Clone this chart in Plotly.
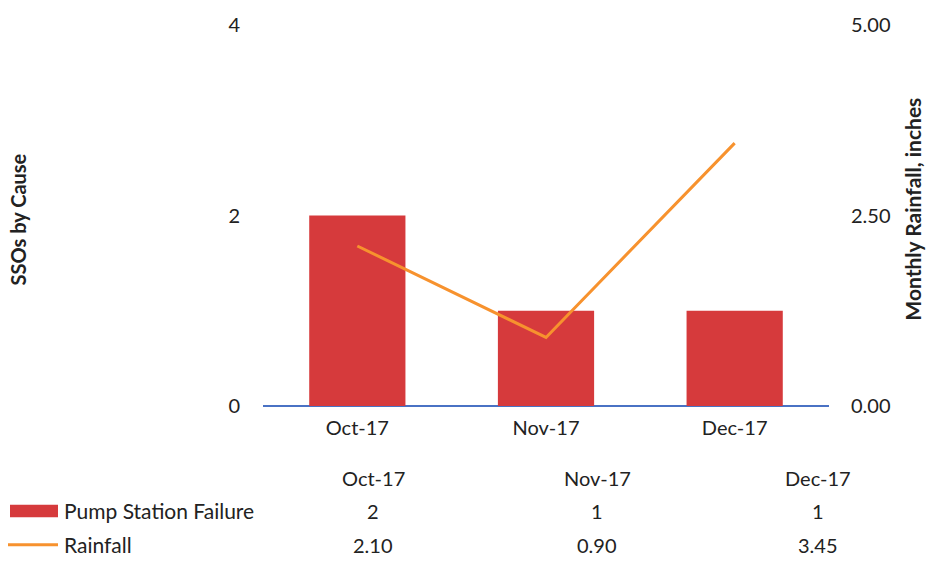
import plotly.graph_objects as go

months = ["Oct-17", "Nov-17", "Dec-17"]
pump_failures = [2, 1, 1]
rainfall = [2.10, 0.90, 3.45]
left_ticks = [0, 2, 4]
right_ticks = [0, 2.5, 5]
right_tick_labels = ["0.00", "2.50", "5.00"]

W, H = 927, 566
L, R, T, B = 263, 829, 16, 406
FONT = "Lato"
RED = "#d63a3c"
ORANGE = "#f7922e"
FS = 20


def px(x):
    return (x - L) / (R - L)


def py(y):
    return (B - y) / (B - T)


fig = go.Figure()
fig.add_trace(go.Bar(x=months, y=pump_failures, name="Pump Station Failure",
                     marker=dict(color=RED, line=dict(width=0)), width=0.51,
                     yaxis="y"))
fig.add_trace(go.Scatter(x=months, y=rainfall, name="Rainfall", mode="lines",
                         line=dict(color=ORANGE, width=3), yaxis="y2"))

fig.update_layout(
    width=W, height=H,
    margin=dict(l=L, r=W - R, t=T, b=H - B),
    paper_bgcolor="white", plot_bgcolor="white",
    showlegend=False,
    font=dict(family=FONT, size=FS, color="#222222"),
    xaxis=dict(showgrid=False, showline=False, ticks="", tickfont=dict(size=FS),
               ticklabelstandoff=8),
    yaxis=dict(range=[0, 4], tickvals=left_ticks, showgrid=False, showline=False,
               zeroline=True, zerolinecolor="#4a72c4", zerolinewidth=2,
               ticks="", tickfont=dict(size=FS), ticklabelstandoff=22),
    yaxis2=dict(range=[0, 5], tickvals=right_ticks, ticktext=right_tick_labels,
                overlaying="y", side="right", showgrid=False, showline=False,
                zeroline=False, ticks="", tickfont=dict(size=FS),
                ticklabelstandoff=21),
)


def note(x, y, text, size=FS, angle=0, xanchor="center"):
    return dict(x=px(x), y=py(y), xref="paper", yref="paper", text=text,
                textangle=angle, showarrow=False, xanchor=xanchor,
                yanchor="middle", font=dict(size=size))


anns = [
    note(18, 215, "<b>SSOs by Cause</b>", size=20, angle=-90),
    note(913, 205, "<b>Monthly Rainfall, inches</b>", size=21, angle=-90),
]

col_x = [373, 597, 818]
for i, m in enumerate(months):
    anns.append(note(col_x[i], 480, m))
    anns.append(note(col_x[i], 513, str(pump_failures[i])))
    anns.append(note(col_x[i], 548, f"{rainfall[i]:.2f}"))

anns.append(note(62, 513, "Pump Station Failure", size=21, xanchor="left"))
anns.append(note(62, 548, "Rainfall", size=21, xanchor="left"))

shapes = [
    dict(type="rect", xref="paper", yref="paper", x0=px(10), x1=px(58),
         y0=py(520), y1=py(507), fillcolor=RED, line=dict(width=0)),
    dict(type="line", xref="paper", yref="paper", x0=px(8), x1=px(58),
         y0=py(548), y1=py(548), line=dict(color=ORANGE, width=3)),
]
fig.update_layout(annotations=anns, shapes=shapes)

fig.write_html("out.html", config={"displayModeBar": False},
               post_script="document.body.style.margin='0';document.body.style.overflow='hidden';")
